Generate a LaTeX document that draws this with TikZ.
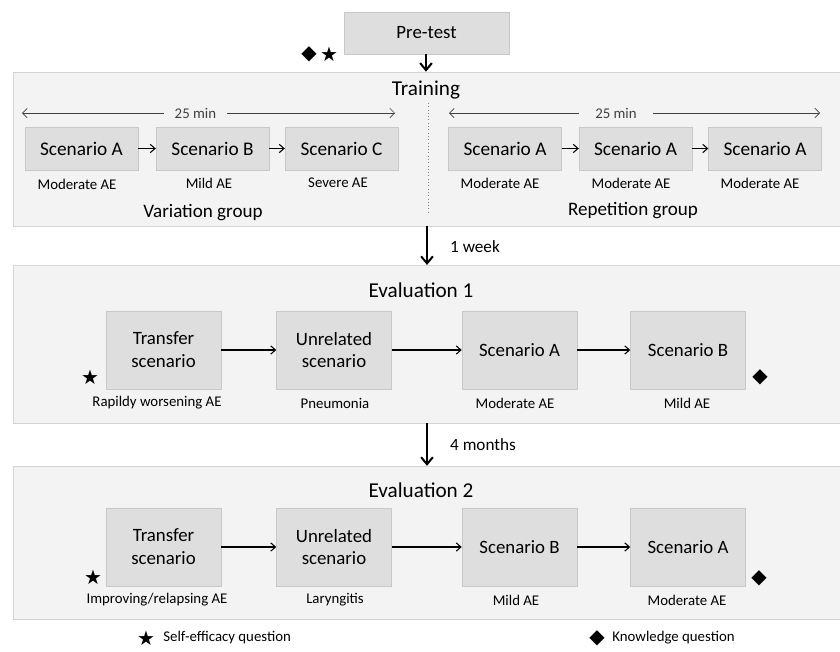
\documentclass[tikz,border=0pt]{standalone}
\usepackage{fontspec}
\setmainfont{Carlito}
\newfontfamily\symfont{DejaVu Sans}
\usetikzlibrary{arrows.meta}
\definecolor{panelgray}{HTML}{F3F3F3}
\definecolor{panelline}{HTML}{D4D4D4}
\definecolor{boxgray}{HTML}{DEDEDE}
\definecolor{boxline}{HTML}{C8C8C8}
\begin{document}
\begin{tikzpicture}[x=0.85pt,y=-0.85pt,
  panel/.style={draw=panelline,fill=panelgray,minimum width=704pt,inner sep=0pt},
  smallbox/.style={draw=boxline,fill=boxgray,minimum width=96pt,minimum height=36.5pt,inner sep=0pt,font=\fontsize{16.4}{19}\selectfont},
  bigbox/.style={draw=boxline,fill=boxgray,minimum width=97.75pt,minimum height=66.3pt,inner sep=0pt,align=center,font=\fontsize{16}{19.5}\selectfont},
  note/.style={font=\fontsize{12.6}{15}\selectfont},
  title/.style={font=\fontsize{18}{22}\selectfont},
  group/.style={font=\fontsize{16.2}{19}\selectfont},
  delay/.style={font=\fontsize{14.6}{17}\selectfont,anchor=west},
  sym/.style={font=\symfont\fontsize{17}{20}\selectfont,inner sep=0pt},
  flow/.style={-{Straight Barb[length=4pt,width=7pt]},line width=0.9pt},
  bigflow/.style={-{Straight Barb[length=6pt,width=10pt]},line width=1.7pt},
  span/.style={{Straight Barb[length=4pt,width=8pt]}-{Straight Barb[length=4pt,width=8pt]},line width=0.6pt,black!75}]
\useasboundingbox (0,0) rectangle (840,651);

% panels
\node[panel,minimum height=131pt] (training) at (427,149) {};
\node[panel,minimum height=134pt] (eval1) at (427,344) {};
\node[panel,minimum height=130pt] (eval2) at (427,542.5) {};

% pre-test
\node[draw=boxline,fill=boxgray,minimum width=140pt,minimum height=35.7pt,inner sep=0pt,font=\fontsize{16}{19}\selectfont] (pretest) at (426.5,33) {Pre-test};
\node[sym] (pkq) at (309,54) {◆};
\node[sym] (pse) at (329,54) {★};

% training
\node[title] (trtitle) at (426,90) {Training};
\draw[dotted,gray,line width=0.8pt] (428,103) -- (428,212);
\coordinate (la) at (22,113);
\coordinate (lb) at (395,113);
\coordinate (ra) at (449,113);
\coordinate (rb) at (820,113);
\draw[span] (la) -- node[pos=0.465,fill=panelgray,inner xsep=9pt,note] {25 min} (lb);
\draw[span] (ra) -- node[pos=0.45,fill=panelgray,inner xsep=14pt,note] {25 min} (rb);

\node[smallbox] (va) at (81.5,148.5) {Scenario A};
\node[smallbox] (vb) at (212.5,148.5) {Scenario B};
\node[smallbox] (vc) at (341.5,148.5) {Scenario C};
\node[smallbox] (ra1) at (505,148.5) {Scenario A};
\node[smallbox] (ra2) at (635.5,148.5) {Scenario A};
\node[smallbox] (ra3) at (765,148.5) {Scenario A};
\draw[flow] (va) -- (vb);
\draw[flow] (vb) -- (vc);
\draw[flow] (ra1) -- (ra2);
\draw[flow] (ra2) -- (ra3);

\node[note] (vanote) at (77,184) {Moderate AE};
\node[note] (vbnote) at (209,183) {Mild AE};
\node[note] (vcnote) at (338,183) {Severe AE};
\node[note] (ra1note) at (500,183) {Moderate AE};
\node[note] (ra2note) at (631,183) {Moderate AE};
\node[note] (ra3note) at (760,183) {Moderate AE};
\node[group] (vgroup) at (203,213) {Variation group};
\node[group] (rgroup) at (633,211) {Repetition group};

% evaluation 1
\node[title] (e1title) at (421,290) {Evaluation 1};
\node[bigbox] (e1t) at (163.5,350) {Transfer\\scenario};
\node[bigbox] (e1u) at (334,350) {Unrelated\\scenario};
\node[bigbox] (e1a) at (519.5,350) {Scenario A};
\node[bigbox] (e1b) at (688,350) {Scenario B};
\draw[flow] (e1t) -- (e1u);
\draw[flow] (e1u) -- (e1a);
\draw[flow] (e1a) -- (e1b);
\node[sym] (e1se) at (90,377) {★};
\node[sym] (e1kq) at (760,377) {◆};
\node[note] (e1tnote) at (157,403) {Rapildy worsening AE};
\node[note] (e1unote) at (335,403) {Pneumonia};
\node[note] (e1anote) at (515,403) {Moderate AE};
\node[note] (e1bnote) at (687,403) {Mild AE};

% evaluation 2
\node[title] (e2title) at (421,490) {Evaluation 2};
\node[bigbox] (e2t) at (163.5,547) {Transfer\\scenario};
\node[bigbox] (e2u) at (334,547) {Unrelated\\scenario};
\node[bigbox] (e2b) at (519.5,547) {Scenario B};
\node[bigbox] (e2a) at (688,547) {Scenario A};
\draw[flow] (e2t) -- (e2u);
\draw[flow] (e2u) -- (e2b);
\draw[flow] (e2b) -- (e2a);
\node[sym] (e2se) at (93,577) {★};
\node[sym] (e2kq) at (759,578) {◆};
\node[note] (e2tnote) at (157,600) {Improving/relapsing AE};
\node[note] (e2unote) at (335,600) {Laryngitis};
\node[note] (e2bnote) at (516,600) {Mild AE};
\node[note] (e2anote) at (687,600) {Moderate AE};

% timeline
\draw[bigflow] (pretest.south -| 426,0) -- (training.north -| 426,0);
\draw[bigflow] (training.south -| 427,0) -- (eval1.north -| 427,0);
\draw[bigflow] (eval1.south -| 427,0) -- (eval2.north -| 427,0);
\node[delay] (week) at (446,247) {1 week};
\node[delay] (months) at (446,445) {4 months};

% legend
\node[sym] (legse) at (146,638) {★};
\node[note,anchor=west,inner sep=1pt] (legsetext) at (162,638) {Self-efficacy question};
\node[sym] (legkq) at (597,638) {◆};
\node[note,anchor=west,inner sep=1pt] (legkqtext) at (611,638) {Knowledge question};
\end{tikzpicture}
\end{document}
